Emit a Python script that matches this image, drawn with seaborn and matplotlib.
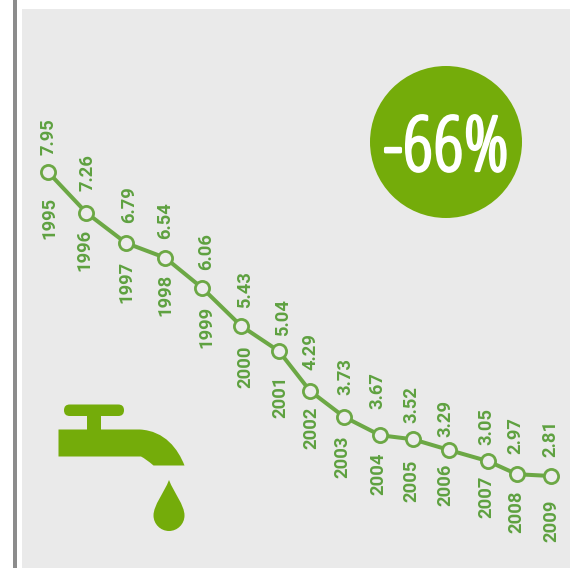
import numpy as np
import pandas as pd
import matplotlib
matplotlib.use("Agg")
import matplotlib.pyplot as plt
import matplotlib.patheffects as pe
from matplotlib.patches import Rectangle, Circle, PathPatch, FancyBboxPatch
from matplotlib.path import Path
from matplotlib.transforms import Affine2D
import seaborn as sns

# Data
years = ["1995","1996","1997","1998","1999","2000","2001","2002","2003","2004","2005","2006","2007","2008","2009"]
value_labels = ["7.95","7.26","6.79","6.54","6.06","5.43","5.04","4.29","3.73","3.67","3.52","3.29","3.05","2.97","2.81"]
# where the marks sit, on the year and value scales of the picture
time_drawn = [1995.0,1996.07,1997.17,1998.26,1999.29,2000.37,2001.43,2002.29,2003.24,2004.24,2005.16,2006.16,2007.25,2008.05,2009.0]
value_drawn = [7.95,7.26,6.75,6.50,5.99,5.35,4.92,4.25,3.81,3.50,3.43,3.25,3.06,2.84,2.81]
change_label = "-66%"

# label offsets from each mark, pixels (dx, dy up)
value_dx = [1,1,3,0,4,4,4,1,1,-3,-2,-4,-2,-1,-1]
value_dy = [17,22,20,19,18,18,15,21,22,26,16,13,16,20,19]
year_dx = [1,-2,0,0,4,4,1,1,-2,-2,-2,-4,-2,0,0]
year_dy = [25,16,18,16,18,20,24,16,19,17,20,14,14,16,24]

W, H = 570, 568
GREEN = "#74ac0a"
LINE = "#6ca845"
TEXT = "#5ea140"
PANEL = "#eaeaea"

sns.set_theme(style="white")
fig = plt.figure(figsize=(W / 100, H / 100), dpi=100, facecolor="white")
ax = fig.add_axes([0, 0, 1, 1])
ax.set_axis_off()
px = Affine2D().scale(1, -1).translate(0, H)

def add(p):
    p.set_transform(px)
    p.set_clip_on(False)
    ax.add_artist(p)
    return p

add(Rectangle((22, 9), W - 22, H - 9, fc=PANEL, ec="none", zorder=0))
add(Rectangle((13.3, 0), 4, H, fc="#8c8c8c", ec="none", zorder=0))
add(Circle((446, 142), 76, fc=GREEN, ec="none", zorder=1))

# tap
add(FancyBboxPatch((64, 404.5), 60, 11.5, boxstyle="round,pad=0,rounding_size=5.7", fc=GREEN, ec="none", zorder=1))
add(Rectangle((87, 414), 13.5, 17, fc=GREEN, ec="none", zorder=1))
tap_v = [(58.5, 429.5), (140, 429.5), (165, 431), (178, 449), (184.5, 465.5), (153.5, 465.5), (146, 459), (141, 456.5), (58.5, 456.5), (58.5, 429.5)]
tap_c = [Path.MOVETO, Path.LINETO, Path.CURVE4, Path.CURVE4, Path.CURVE4, Path.LINETO, Path.CURVE3, Path.CURVE3, Path.LINETO, Path.CLOSEPOLY]
add(PathPatch(Path(tap_v, tap_c), fc=GREEN, ec="none", zorder=1))
drop_v = [(169, 480), (164, 493), (153.5, 505), (153.5, 515.5), (153.5, 524), (160.5, 531), (169, 531), (177.5, 531), (184.5, 524), (184.5, 515.5), (184.5, 505), (174, 493), (169, 480)]
drop_c = [Path.MOVETO] + [Path.CURVE4] * 12
add(PathPatch(Path(drop_v, drop_c), fc=GREEN, ec="none", zorder=1))

df = pd.DataFrame({"time": time_drawn, "value": value_drawn})
sns.lineplot(data=df, x="time", y="value", ax=ax, color=LINE, linewidth=2.9, marker="o",
             markersize=10.2, markerfacecolor="#ececec", markeredgecolor=LINE, markeredgewidth=2.0,
             zorder=3, legend=False, errorbar=None)
# calibrate the scales: 1995 at x=48, 2009 at x=551; 7.95 at y=172, 2.81 at y=476
kx = (551 - 48) / 14
ky = (476 - 172) / (7.95 - 2.81)
ax.set_xlim(1995 - 48 / kx, 1995 + (W - 48) / kx)
ax.set_ylim(7.95 - (H - 172) / ky, 7.95 + 172 / ky)
ax.set_xlabel("")
ax.set_ylabel("")

font = dict(family="Roboto", fontweight=700, fontsize=13.2, color=TEXT, rotation=90, zorder=4)
for i, (x, y) in enumerate(zip(time_drawn, value_drawn)):
    ax.annotate(value_labels[i], (x, y), xytext=(value_dx[i], value_dy[i]), textcoords="offset pixels",
                ha="center", va="bottom", **font)
    ax.annotate(years[i], (x, y), xytext=(year_dx[i], -year_dy[i]), textcoords="offset pixels",
                ha="center", va="top", **font)

ax.text(446, 142, change_label, transform=px, ha="center", va="center_baseline", color="white",
        family="Open Sans", stretch="condensed", fontweight=300, fontsize=55, zorder=5,
        path_effects=[pe.withStroke(linewidth=2, foreground="white")])
fig.savefig("out.png", dpi=100, facecolor="white")
